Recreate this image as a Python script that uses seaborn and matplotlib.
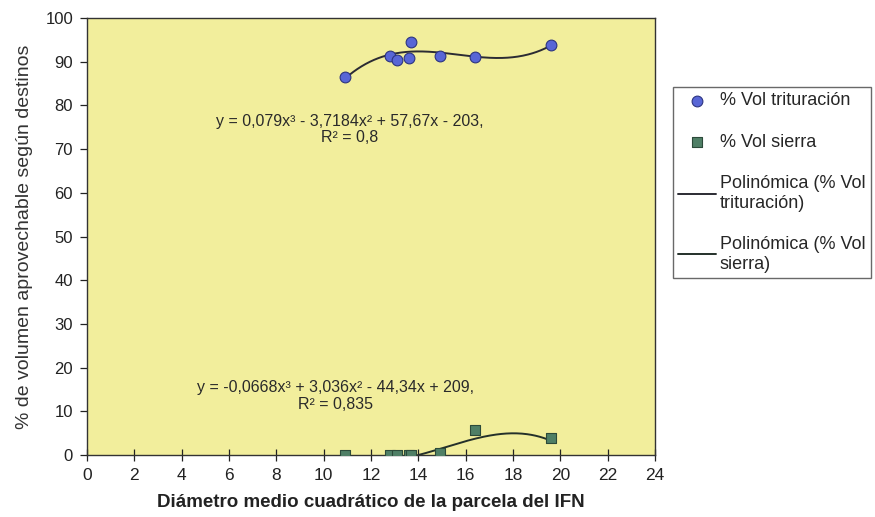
import numpy as np
import pandas as pd
import matplotlib
matplotlib.use("Agg")
import matplotlib.pyplot as plt
import seaborn as sns

# Diámetro medio cuadrático de cada parcela (cm)
diametro = [10.9, 12.8, 13.1, 13.6, 13.7, 14.9, 16.4, 19.6]
# Porcentaje de volumen destinado a trituración y a sierra
vol_trituracion = [86.4, 91.3, 90.3, 90.8, 94.4, 91.2, 91.0, 93.8]
vol_sierra = [0.0, 0.0, 0.0, 0.0, 0.0, 0.5, 5.8, 4.0]

# Coeficientes de los ajustes polinómicos de tercer grado
coef_trituracion = [0.079, -3.7184, 57.67, -203.0]
coef_sierra = [-0.0668, 3.036, -44.34, 209.0]
r2_trituracion = "0,8"
r2_sierra = "0,835"

x_ticks = list(range(0, 25, 2))
y_ticks = list(range(0, 101, 10))

sns.set_theme(style="white")
plt.rcParams["font.family"] = ["Liberation Sans", "DejaVu Sans"]

df = pd.DataFrame({"x": diametro, "trit": vol_trituracion, "sierra": vol_sierra})
xs = np.linspace(min(diametro), max(diametro), 200)
curvas = pd.DataFrame({
    "x": xs,
    "trit": np.polyval(coef_trituracion, xs),
    "sierra": np.polyval(coef_sierra, xs),
})

fig = plt.figure(figsize=(8.75, 5.17), dpi=100, facecolor="white")
ax = fig.add_axes([0.0994, 0.1199, 0.6492, 0.8453])
ax.set_facecolor("#f2ee9c")

sns.lineplot(data=curvas, x="x", y="trit", ax=ax, color="#2b2b33", lw=1.4,
             label="Polinómica (% Vol\ntrituración)", zorder=2, legend=False)
sns.lineplot(data=curvas, x="x", y="sierra", ax=ax, color="#24302a", lw=1.4,
             label="Polinómica (% Vol\nsierra)", zorder=2, legend=False)
sns.scatterplot(data=df, x="x", y="trit", ax=ax, marker="o", s=60,
                color="#5866d6", edgecolor="#2c3480", linewidth=0.8,
                label="% Vol trituración", zorder=3, legend=False)
sns.scatterplot(data=df, x="x", y="sierra", ax=ax, marker="s", s=50,
                color="#4f7f66", edgecolor="#2c4a3a", linewidth=0.8,
                label="% Vol sierra", zorder=3, legend=False)

ax.set_xlim(0, 24)
ax.set_ylim(0, 100)
ax.set_xticks(x_ticks)
ax.set_yticks(y_ticks)
ax.tick_params(axis="x", direction="inout", length=8, width=0.9,
               colors="#222222", labelsize=12.5, pad=5, bottom=True)
ax.tick_params(axis="y", direction="out", length=5, width=0.9,
               colors="#222222", labelsize=12, pad=5, left=True)
for s in ax.spines.values():
    s.set_color("#333333")
    s.set_linewidth(1.0)

ax.set_xlabel("Diámetro medio cuadrático de la parcela del IFN",
              fontsize=13.5, fontweight="bold", color="#222222", labelpad=8)
ax.set_ylabel("% de volumen aprovechable según destinos",
              fontsize=14, color="#333333", labelpad=9)

ax.text(11.1, 74.5, f"y = 0,079x³ - 3,7184x² + 57,67x - 203,\nR² = {r2_trituracion}",
        ha="center", va="center", multialignment="center", linespacing=1.15,
        fontsize=11.5, color="#2a2a2a")
ax.text(10.5, 13.5, f"y = -0,0668x³ + 3,036x² - 44,34x + 209,\nR² = {r2_sierra}",
        ha="center", va="center", multialignment="center", linespacing=1.15,
        fontsize=11.5, color="#2a2a2a")

handles, labels = ax.get_legend_handles_labels()
orden = [2, 3, 0, 1]
leg = fig.legend([handles[i] for i in orden], [labels[i] for i in orden],
                 loc="upper left", bbox_to_anchor=(0.769, 0.832),
                 borderaxespad=0, frameon=True, fancybox=False, fontsize=13,
                 handlelength=2.1, handletextpad=0.2, labelspacing=1.35,
                 borderpad=0.3, edgecolor="#444444")
leg.get_frame().set_linewidth(1.0)

fig.savefig("out.png", dpi=100, facecolor="white")
